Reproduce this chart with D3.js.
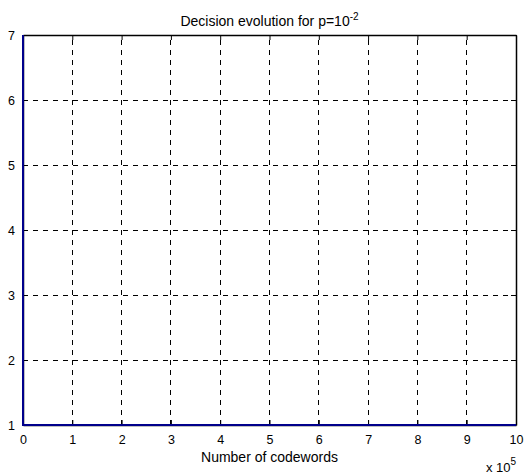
<!DOCTYPE html>
<html>
<head>
<meta charset="utf-8">
<script src="https://cdn.jsdelivr.net/npm/d3@7"></script>
<style>
  body { margin: 0; background: #fff; }
  text { font-family: "Liberation Sans", Arial, sans-serif; fill: #000; }
</style>
</head>
<body>
<div id="chart"></div>
<script>
// data (x in units of 1e5 codewords)
var codewords = [0, 0, 10];
var decision = [7, 1, 1];
var xTicks = [0, 1, 2, 3, 4, 5, 6, 7, 8, 9, 10];
var yTicks = [1, 2, 3, 4, 5, 6, 7];

var svg = d3.select("#chart").append("svg")
  .attr("width", 525).attr("height", 475);

var margin = { top: 35, left: 23, bottom: 50, right: 9 };
var width = 525 - margin.left - margin.right;
var height = 475 - margin.top - margin.bottom;

var x = d3.scaleLinear().domain([0, 10]).range([margin.left, margin.left + width]);
var y = d3.scaleLinear().domain([1, 7]).range([margin.top + height, margin.top]);

// grid
svg.append("g").selectAll("line.vg")
  .data(xTicks.slice(1, -1)).enter().append("line")
  .attr("x1", d => x(d)).attr("x2", d => x(d))
  .attr("y1", y(1)).attr("y2", y(7))
  .attr("stroke", "#000").attr("stroke-width", 1)
  .attr("stroke-dasharray", "5,5")
  .attr("shape-rendering", "crispEdges");

svg.append("g").selectAll("line.hg")
  .data(yTicks.slice(1, -1)).enter().append("line")
  .attr("x1", x(0)).attr("x2", x(10))
  .attr("y1", d => y(d)).attr("y2", d => y(d))
  .attr("stroke", "#000").attr("stroke-width", 1)
  .attr("stroke-dasharray", "5,5")
  .attr("shape-rendering", "crispEdges");

// axes (ticks inward)
svg.append("g")
  .attr("transform", `translate(0,${y(1)})`)
  .call(d3.axisBottom(x).tickValues(xTicks).tickFormat(d3.format("d"))
    .tickSizeInner(-5).tickSizeOuter(0).tickPadding(10));
svg.append("g")
  .attr("transform", `translate(0,${y(7)})`)
  .call(d3.axisTop(x).tickValues(xTicks).tickFormat("")
    .tickSizeInner(-5).tickSizeOuter(0));
svg.append("g")
  .attr("transform", `translate(${x(0)},0)`)
  .call(d3.axisLeft(y).tickValues(yTicks).tickFormat(d3.format("d"))
    .tickSizeInner(-5).tickSizeOuter(0).tickPadding(8));
svg.append("g")
  .attr("transform", `translate(${x(10)},0)`)
  .call(d3.axisRight(y).tickValues(yTicks).tickFormat("")
    .tickSizeInner(-5).tickSizeOuter(0));

svg.selectAll(".domain").attr("stroke", "#000").attr("stroke-width", 1.5);
svg.selectAll(".tick line").attr("stroke", "#000");
svg.selectAll(".tick text").attr("font-size", 12.5)
  .attr("font-family", "Liberation Sans, Arial, sans-serif");

// data line
var line = d3.line().x((d, i) => x(codewords[i])).y(d => y(d));
svg.append("path")
  .datum(decision)
  .attr("d", line)
  .attr("fill", "none")
  .attr("stroke", "#00008b")
  .attr("stroke-width", 2);

// title and labels
var title = svg.append("text")
  .attr("x", x(5)).attr("y", 26)
  .attr("text-anchor", "middle").attr("font-size", 14);
title.append("tspan").text("Decision evolution for p=10");
title.append("tspan").attr("dy", -6).attr("font-size", 10).text("-2");

svg.append("text")
  .attr("x", x(5)).attr("y", 462)
  .attr("text-anchor", "middle").attr("font-size", 14)
  .text("Number of codewords");

var mult = svg.append("text")
  .attr("x", 486).attr("y", 472).attr("font-size", 13);
mult.append("tspan").text("x 10");
mult.append("tspan").attr("dy", -7).attr("font-size", 10).text("5");
</script>
</body>
</html>
